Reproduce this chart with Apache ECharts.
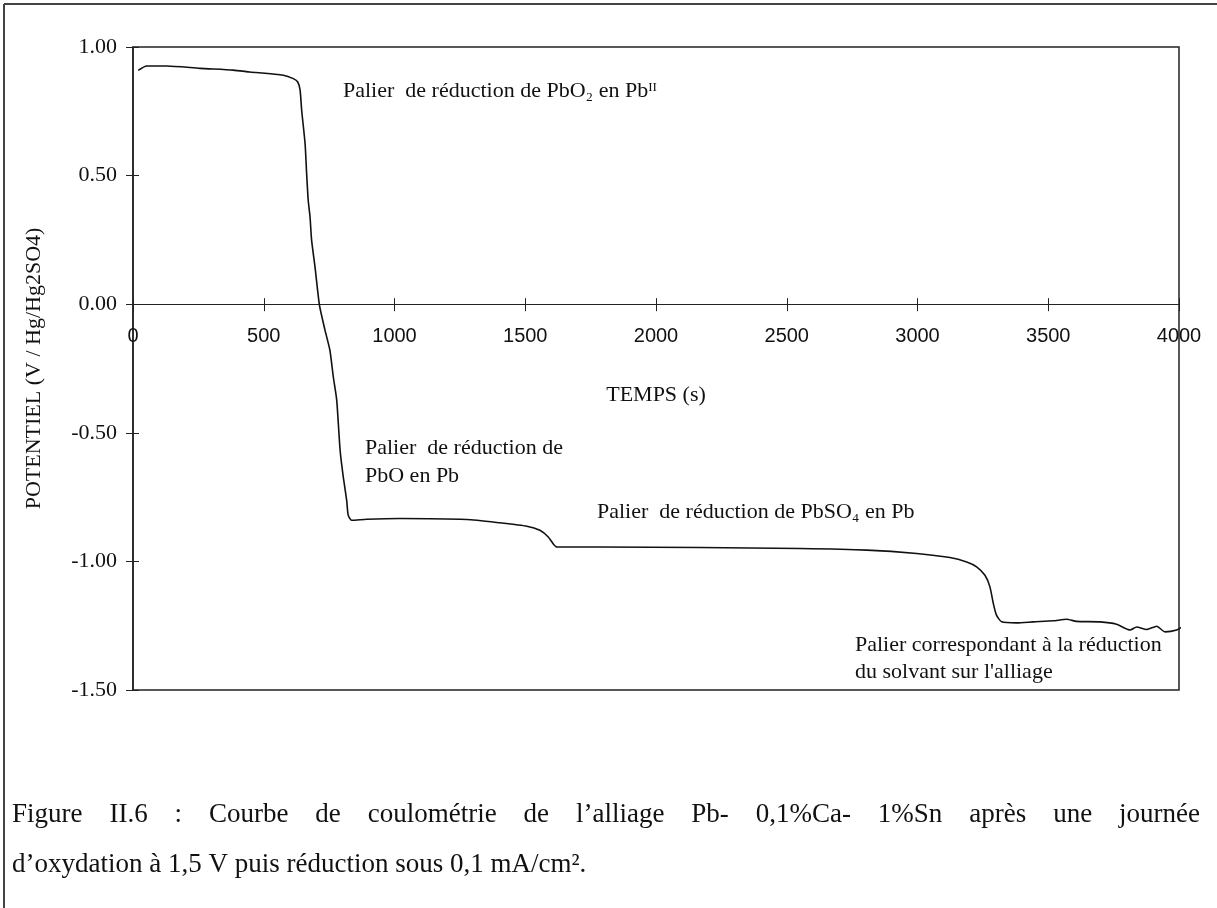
<!DOCTYPE html>
<html>
<head>
<meta charset="utf-8">
<script src="https://cdn.jsdelivr.net/npm/echarts@6/dist/echarts.min.js"></script>
<style>
  html, body { margin: 0; padding: 0; background: #fff; }
  #main { width: 1217px; height: 908px; }
</style>
</head>
<body>
<div id="main"></div>
<script>
// temps (s) et potentiel (V / Hg/Hg2SO4)
const times = [20, 52, 129, 256, 383, 447, 575, 613, 630, 639, 645, 658, 664, 670, 677, 683, 696, 713, 734, 753, 766, 779, 792, 804, 817, 823, 836, 894, 1021, 1276, 1403, 1506, 1556, 1588, 1608, 1621, 1786, 2168, 2550, 2806, 2997, 3124, 3188, 3226, 3258, 3277, 3290, 3302, 3322, 3379, 3443, 3519, 3570, 3608, 3698, 3761, 3813, 3838, 3876, 3915, 3946, 3991, 4016];
const potentials = [0.909, 0.926, 0.926, 0.917, 0.910, 0.903, 0.890, 0.877, 0.864, 0.832, 0.754, 0.625, 0.508, 0.404, 0.339, 0.249, 0.145, -0.004, -0.100, -0.179, -0.283, -0.373, -0.568, -0.671, -0.762, -0.820, -0.840, -0.836, -0.833, -0.837, -0.850, -0.863, -0.879, -0.905, -0.933, -0.944, -0.944, -0.946, -0.950, -0.956, -0.969, -0.985, -1.002, -1.021, -1.054, -1.099, -1.164, -1.209, -1.235, -1.239, -1.235, -1.231, -1.225, -1.233, -1.235, -1.244, -1.267, -1.255, -1.265, -1.252, -1.274, -1.267, -1.252];

const xTickStep = 500;
const yTickStep = 0.5;
const xMin = 0, xMax = 4000;
const yMin = -1.5, yMax = 1;

const captionLine1 = "Figure II.6 : Courbe de coulométrie de l’alliage Pb- 0,1%Ca- 1%Sn après une journée";
const captionLine2 = "d’oxydation à 1,5 V puis réduction sous 0,1 mA/cm².";

const serif = '"Liberation Serif", "Times New Roman", serif';
const sans = '"Liberation Sans", Arial, sans-serif';

const gridTop = 47, gridBottom = 218, height = 908;
const plotH = height - gridTop - gridBottom;
// lift the time axis from the bottom edge up to potential = 0
const zeroOffset = -plotH * (0 - yMin) / (yMax - yMin);

const chart = echarts.init(document.getElementById('main'));

// first caption line is justified between x=12 and x=1200
const capSize = 27;
const ctx = document.createElement('canvas').getContext('2d');
ctx.font = capSize + 'px ' + serif;
const words = captionLine1.split(' ');
const widths = words.map(w => ctx.measureText(w).width);
const gap = (1200 - 12 - widths.reduce((a, b) => a + b, 0)) / (words.length - 1);
let cx = 12;
const captionWords = words.map((w, i) => {
  const el = {
    type: 'text', x: cx, y: 815,
    style: { text: w, font: capSize + 'px ' + serif, fill: '#111', verticalAlign: 'middle' }
  };
  cx += widths[i] + gap;
  return el;
});

function note(x, y, text) {
  return {
    type: 'text', x: x, y: y,
    style: { text: text, font: '22px ' + serif, fill: '#111', verticalAlign: 'middle' }
  };
}

const axisText = { color: '#111', fontFamily: serif, fontSize: 22 };

chart.setOption({
  animation: false,
  backgroundColor: '#fff',
  grid: {
    left: 133, right: 38, top: gridTop, bottom: gridBottom,
    show: true, borderColor: '#222', borderWidth: 1.5, containLabel: false
  },
  xAxis: [{
    type: 'value', min: xMin, max: xMax, interval: xTickStep,
    offset: zeroOffset,
    axisLine: { onZero: false, lineStyle: { color: '#222', width: 1.2 } },
    axisTick: { length: 7, lineStyle: { color: '#222' } },
    axisLabel: { color: '#111', fontFamily: sans, fontSize: 20, margin: 22,
      formatter: v => String(v) },
    splitLine: { show: false },
    name: 'TEMPS (s)', nameLocation: 'middle', nameGap: 80,
    nameTextStyle: axisText
  }, {
    // inward half of the crossing ticks
    type: 'value', min: xMin, max: xMax, interval: xTickStep,
    position: 'bottom', offset: zeroOffset,
    axisLine: { show: false, onZero: false },
    axisTick: { inside: true, length: 6, lineStyle: { color: '#222' } },
    axisLabel: { show: false },
    splitLine: { show: false }
  }],
  yAxis: [{
    type: 'value', min: yMin, max: yMax, interval: yTickStep,
    axisLine: { show: true, onZero: false, lineStyle: { color: '#222', width: 1.5 } },
    axisTick: { show: true, length: 7, lineStyle: { color: '#222' } },
    axisLabel: { color: '#111', fontFamily: serif, fontSize: 22, margin: 16,
      formatter: v => v.toFixed(2) },
    splitLine: { show: false },
    name: 'POTENTIEL (V / Hg/Hg2SO4)', nameLocation: 'middle', nameGap: 88,
    nameRotate: 90, nameTextStyle: axisText
  }, {
    type: 'value', min: yMin, max: yMax, interval: yTickStep,
    position: 'left', offset: 0,
    axisLine: { show: false, onZero: false },
    axisTick: { show: true, inside: true, length: 6, lineStyle: { color: '#222' } },
    axisLabel: { show: false },
    splitLine: { show: false }
  }],
  series: [{
    type: 'line',
    data: times.map((t, i) => [t, potentials[i]]),
    showSymbol: false,
    clip: false,
    smooth: 0.2,
    lineStyle: { color: '#111', width: 1.6 }
  }],
  graphic: [
    { type: 'line', shape: { x1: 4, y1: 4, x2: 1217, y2: 4 }, style: { stroke: '#444', lineWidth: 2 } },
    { type: 'line', shape: { x1: 4, y1: 4, x2: 4, y2: 908 }, style: { stroke: '#444', lineWidth: 2 } },
    note(343, 91, 'Palier  de réduction de PbO₂ en Pbᴵᴵ'),
    note(365, 448, 'Palier  de réduction de'),
    note(365, 476, 'PbO en Pb'),
    note(597, 512, 'Palier  de réduction de PbSO₄ en Pb'),
    note(855, 645, 'Palier correspondant à la réduction'),
    note(855, 672, 'du solvant sur l\'alliage'),
    ...captionWords,
    {
      type: 'text', x: 12, y: 865,
      style: { text: captionLine2, font: capSize + 'px ' + serif, fill: '#111', verticalAlign: 'middle' }
    }
  ]
});
</script>
</body>
</html>
